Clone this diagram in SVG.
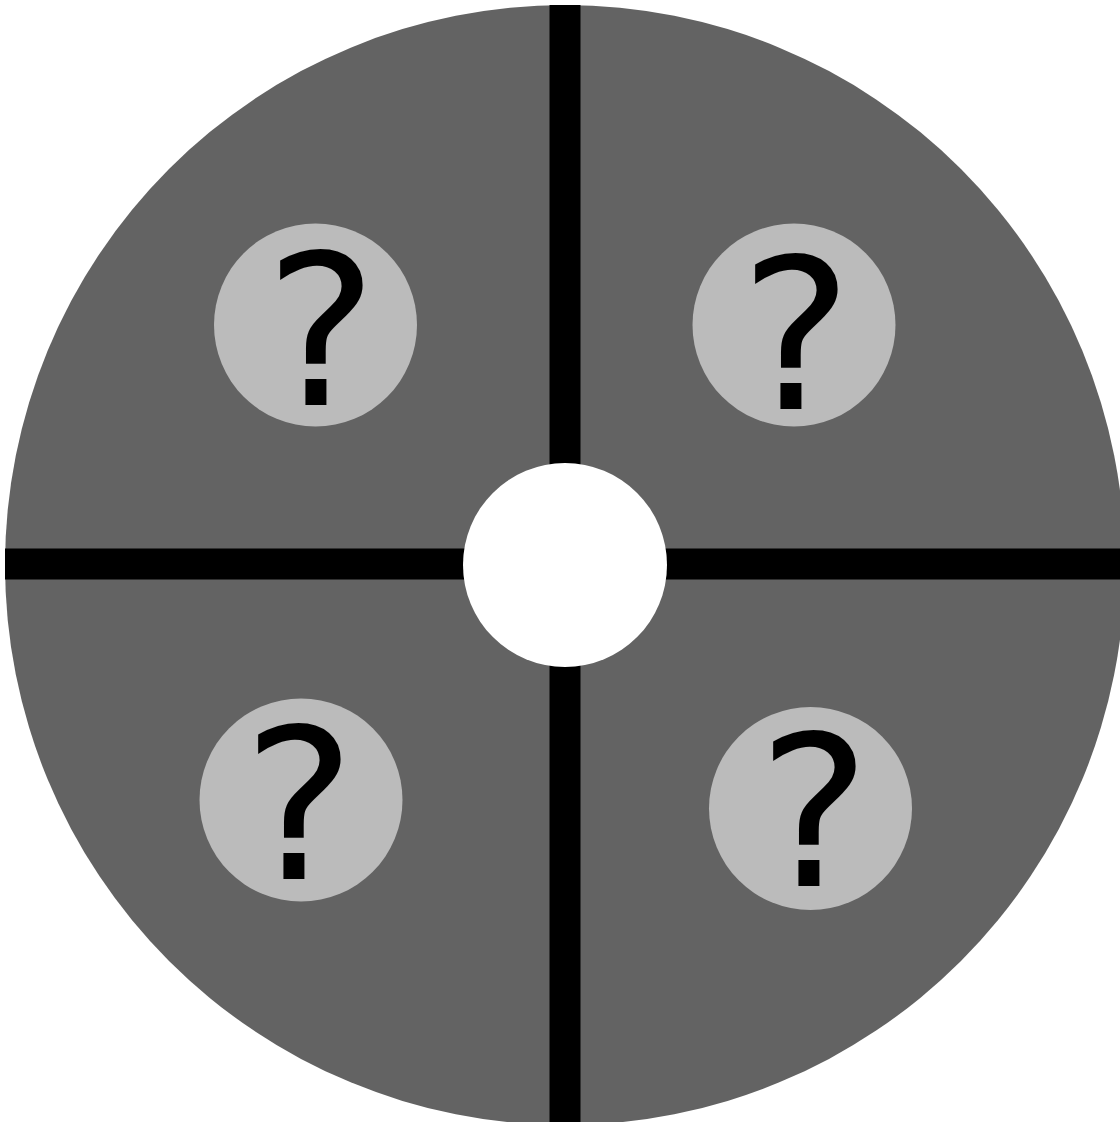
<svg xmlns="http://www.w3.org/2000/svg" width="1120" height="1122" viewBox="0 0 1120 1122">
<style>
.disc{fill:#636363}
.bar{stroke:#000;stroke-width:31}
.hub{fill:#fff}
.spot{fill:#bbbbbb}
.q{font-size:210px;fill:#000}
</style>
<rect width="1120" height="1122" fill="#fff"/>
<g id="disc"><circle class="disc" cx="565" cy="565" r="560"/></g>
<g id="connectors">
<line class="bar" x1="565" y1="5" x2="565" y2="1125"/>
<line class="bar" x1="5" y1="564" x2="1125" y2="564"/>
</g>
<g id="hub"><circle class="hub" cx="565" cy="565" r="102"/></g>
<g id="node1"><circle class="spot" cx="315.5" cy="325" r="101.5"/><text class="q" font-family="DejaVu Sans Condensed, serif" transform="translate(265,405) scale(1.12,1)">?</text></g>
<g id="node2"><circle class="spot" cx="794" cy="325" r="101.5"/><text class="q" font-family="DejaVu Sans Condensed, serif" transform="translate(740,409) scale(1.12,1)">?</text></g>
<g id="node3"><circle class="spot" cx="301" cy="800" r="101.5"/><text class="q" font-family="DejaVu Sans Condensed, serif" transform="translate(243,879) scale(1.12,1)">?</text></g>
<g id="node4"><circle class="spot" cx="810.5" cy="808.5" r="101.5"/><text class="q" font-family="DejaVu Sans Condensed, serif" transform="translate(758,886) scale(1.12,1)">?</text></g>
</svg>
